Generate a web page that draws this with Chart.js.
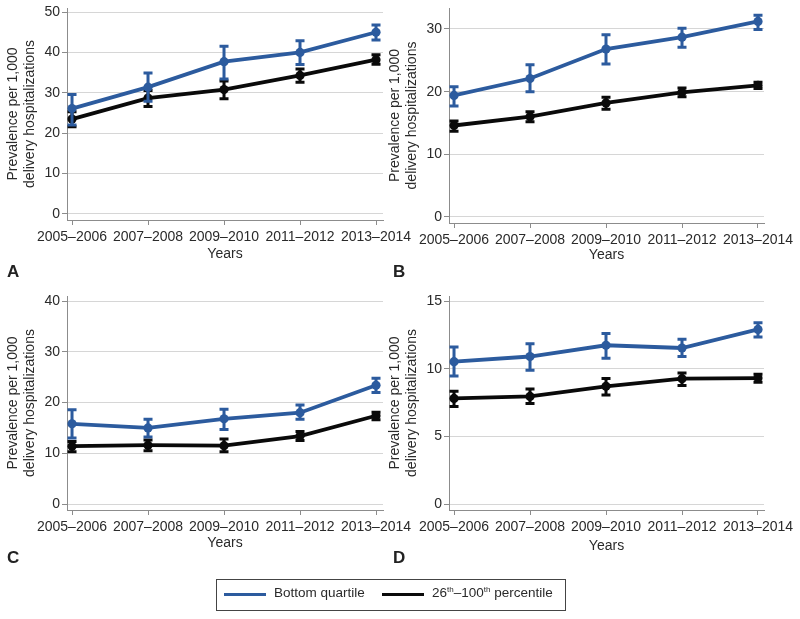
<!DOCTYPE html>
<html lang="en">
<head>
<meta charset="UTF-8">
<title>Prevalence per 1,000 delivery hospitalizations</title>
<script src="https://cdn.jsdelivr.net/npm/chart.js"></script>
<style>
  body { margin: 0; background: #fff; font-family: 'Liberation Sans', Arial, sans-serif; }
  #wrap { position: relative; width: 800px; height: 619px; overflow: hidden; }
  #wrap canvas { position: absolute; left: 0; top: 0; }
  .tag { position: absolute; font-weight: bold; font-size: 17px; line-height: 17px; color: #222; }
  #legend { position: absolute; left: 216px; top: 579px; width: 350px; height: 32px; box-sizing: border-box; border: 1px solid #444; }
  #legend .sw { position: absolute; top: 13px; width: 42px; height: 3px; }
  #legend .lb { position: absolute; top: 5px; font-size: 13.5px; line-height: 16px; color: #2a2a2a; white-space: nowrap; }
  #legend sup { font-size: 8px; vertical-align: 5px; line-height: 0; }
</style>
</head>
<body>
<div id="wrap">
  <canvas id="chartA" width="800" height="619"></canvas>
  <canvas id="chartB" width="800" height="619"></canvas>
  <canvas id="chartC" width="800" height="619"></canvas>
  <canvas id="chartD" width="800" height="619"></canvas>
  <div class="tag" style="left:7px; top:263px">A</div>
  <div class="tag" style="left:393px; top:263px">B</div>
  <div class="tag" style="left:7px; top:549px">C</div>
  <div class="tag" style="left:393px; top:549px">D</div>
  <div id="legend">
    <div class="sw" style="left:7px; background:#2c5b9e"></div>
    <div class="lb" style="left:57px">Bottom quartile</div>
    <div class="sw" style="left:165px; background:#0a0a0a"></div>
    <div class="lb" style="left:215px">26<sup>th</sup>–100<sup>th</sup> percentile</div>
  </div>
</div>

<script>
  // x categories
  const years = ['2005–2006', '2007–2008', '2009–2010', '2011–2012', '2013–2014'];

  // panel A
  const bottomA = [26.1, 31.4, 37.7, 40.0, 45.0];
  const bottomA_lo = [22.0, 27.9, 33.4, 37.0, 43.1];
  const bottomA_hi = [29.6, 34.9, 41.5, 42.9, 46.8];
  const restA = [23.5, 28.7, 30.8, 34.3, 38.2];
  const restA_lo = [21.6, 26.6, 28.5, 32.6, 37.1];
  const restA_hi = [25.3, 30.6, 32.9, 35.9, 39.4];
  const ticksA = [0, 10, 20, 30, 40, 50];

  // panel B
  const bottomB = [19.4, 22.1, 26.8, 28.7, 31.2];
  const bottomB_lo = [17.7, 20.0, 24.4, 27.1, 29.9];
  const bottomB_hi = [20.8, 24.3, 29.1, 30.1, 32.2];
  const restB = [14.6, 16.0, 18.2, 19.9, 21.0];
  const restB_lo = [13.7, 15.2, 17.2, 19.2, 20.5];
  const restB_hi = [15.3, 16.8, 19.1, 20.6, 21.5];
  const ticksB = [0, 10, 20, 30];

  // panel C
  const bottomC = [15.8, 15.0, 16.8, 18.0, 23.4];
  const bottomC_lo = [13.0, 13.2, 14.7, 16.7, 22.0];
  const bottomC_hi = [18.6, 16.7, 18.7, 19.5, 24.8];
  const restC = [11.4, 11.6, 11.5, 13.4, 17.4];
  const restC_lo = [10.3, 10.5, 10.3, 12.5, 16.6];
  const restC_hi = [12.3, 12.6, 12.8, 14.3, 18.1];
  const ticksC = [0, 10, 20, 30, 40];

  // panel D
  const bottomD = [10.52, 10.9, 11.73, 11.53, 12.9];
  const bottomD_lo = [9.46, 9.88, 10.77, 10.9, 12.35];
  const bottomD_hi = [11.6, 11.85, 12.6, 12.18, 13.4];
  const restD = [7.8, 7.95, 8.7, 9.26, 9.31];
  const restD_lo = [7.2, 7.43, 8.05, 8.76, 8.99];
  const restD_hi = [8.34, 8.5, 9.28, 9.68, 9.58];
  const ticksD = [0, 5, 10, 15];

  const FONT = "'Liberation Sans', Arial, sans-serif";
  const BLUE = '#2c5b9e';
  const BLACK = '#0a0a0a';
  const TXT = '#2a2a2a';
  const AXIS = '#8c8c8c';
  const GRID = '#d6d6d6';

  // draws the confidence interval caps under each line
  const errorBars = {
    id: 'errorBars',
    beforeDatasetDraw(chart, args) {
      const ds = chart.data.datasets[args.index];
      if (!ds.lo) return;
      const y = chart.scales.y;
      const ctx = chart.ctx;
      ctx.save();
      ctx.strokeStyle = ds.borderColor;
      ctx.lineWidth = 3;
      args.meta.data.forEach((pt, i) => {
        const top = y.getPixelForValue(ds.hi[i]);
        const bot = y.getPixelForValue(ds.lo[i]);
        ctx.beginPath();
        ctx.moveTo(pt.x, top); ctx.lineTo(pt.x, bot);
        ctx.moveTo(pt.x - 4.5, top); ctx.lineTo(pt.x + 4.5, top);
        ctx.moveTo(pt.x - 4.5, bot); ctx.lineTo(pt.x + 4.5, bot);
        ctx.stroke();
      });
      ctx.restore();
    }
  };

  function series(label, vals, lo, hi, color) {
    return {
      label: label,
      data: vals.map((v, i) => ({ x: i, y: v })),
      lo: lo, hi: hi,
      borderColor: color,
      backgroundColor: color,
      borderWidth: 3.8,
      pointRadius: 4.6,
      pointBorderWidth: 0,
      pointBackgroundColor: color,
      tension: 0
    };
  }

  function panel(id, box, yTicks, bottomSet, restSet, titlePad) {
    const font = { family: FONT, size: 14, lineHeight: 1.25 };
    new Chart(document.getElementById(id), {
      type: 'line',
      data: { datasets: [bottomSet, restSet] },
      options: {
        responsive: false,
        animation: false,
        events: [],
        layout: {
          padding: { left: box.left - 64, top: box.top, right: 800 - box.right, bottom: 619 - box.bottom - 50 }
        },
        plugins: { legend: { display: false }, tooltip: { enabled: false } },
        scales: {
          x: {
            type: 'linear',
            min: box.xmin, max: box.xmax,
            afterBuildTicks: s => { s.ticks = years.map((_, i) => ({ value: i })); },
            afterFit: s => { s.height = 50; s.paddingLeft = 0; s.paddingRight = 0; },
            ticks: { callback: v => years[v], autoSkip: false, maxRotation: 0, minRotation: 0, padding: 3, color: TXT, font: font },
            grid: { drawOnChartArea: false, drawTicks: true, tickLength: 5, tickColor: AXIS },
            border: { color: AXIS, width: 1 },
            title: { display: true, text: 'Years', color: TXT, font: font, padding: { top: 0, bottom: titlePad } }
          },
          y: {
            min: box.ymin, max: box.ymax,
            afterBuildTicks: s => { s.ticks = yTicks.map(v => ({ value: v })); },
            afterFit: s => { s.width = 64; s.paddingTop = 0; s.paddingBottom = 0; },
            ticks: { padding: 2, color: TXT, font: font },
            grid: { color: GRID, lineWidth: 1, drawTicks: true, tickLength: 5, tickColor: AXIS },
            border: { color: AXIS, width: 1 },
            title: {
              display: true,
              text: ['Prevalence per 1,000', 'delivery hospitalizations'],
              color: TXT, font: font, padding: { top: 1.2, bottom: 0 }
            }
          }
        }
      },
      plugins: [errorBars]
    });
  }

  panel('chartA', { left: 67, right: 383, top: 8, bottom: 220, xmin: -0.066, xmax: 4.092, ymin: -1.5, ymax: 51 }, ticksA,
    series('Bottom quartile', bottomA, bottomA_lo, bottomA_hi, BLUE),
    series('26th–100th percentile', restA, restA_lo, restA_hi, BLACK), 7.2);

  panel('chartB', { left: 449, right: 764, top: 8, bottom: 223, xmin: -0.066, xmax: 4.079, ymin: -0.96, ymax: 33.35 }, ticksB,
    series('Bottom quartile', bottomB, bottomB_lo, bottomB_hi, BLUE),
    series('26th–100th percentile', restB, restB_lo, restB_hi, BLACK), 9.2);

  panel('chartC', { left: 67, right: 383, top: 296, bottom: 510, xmin: -0.066, xmax: 4.092, ymin: -1.18, ymax: 41 }, ticksC,
    series('Bottom quartile', bottomC, bottomC_lo, bottomC_hi, BLUE),
    series('26th–100th percentile', restC, restC_lo, restC_hi, BLACK), 8.2);

  panel('chartD', { left: 449, right: 764, top: 296, bottom: 510, xmin: -0.066, xmax: 4.079, ymin: -0.44, ymax: 15.37 }, ticksD,
    series('Bottom quartile', bottomD, bottomD_lo, bottomD_hi, BLUE),
    series('26th–100th percentile', restD, restD_lo, restD_hi, BLACK), 5.2);
</script>
</body>
</html>
